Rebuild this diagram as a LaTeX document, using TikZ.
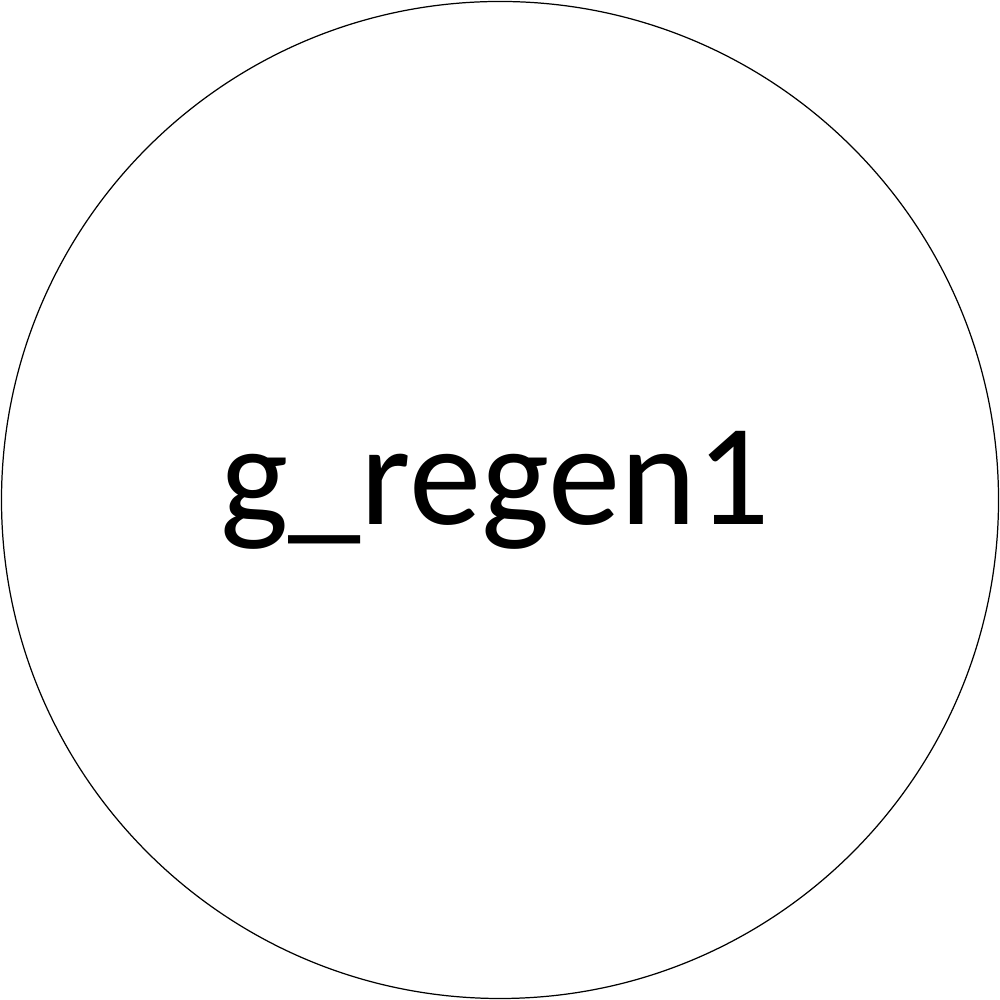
\documentclass[tikz,border=0pt]{standalone}
\usepackage{fontspec}
\setmainfont{Carlito}
\tikzset{state/.style={circle, draw, line width=0.35pt, minimum size=9.97cm, inner sep=0pt}}
\begin{document}
\begin{tikzpicture}
    \useasboundingbox (0,0) rectangle (10,10);
    \node[state] (regen) at (5,5) {};
    \node (label) at (4.95,5.10) {\fontsize{41.2}{49}\selectfont g\_regen1};
\end{tikzpicture}
\end{document}
